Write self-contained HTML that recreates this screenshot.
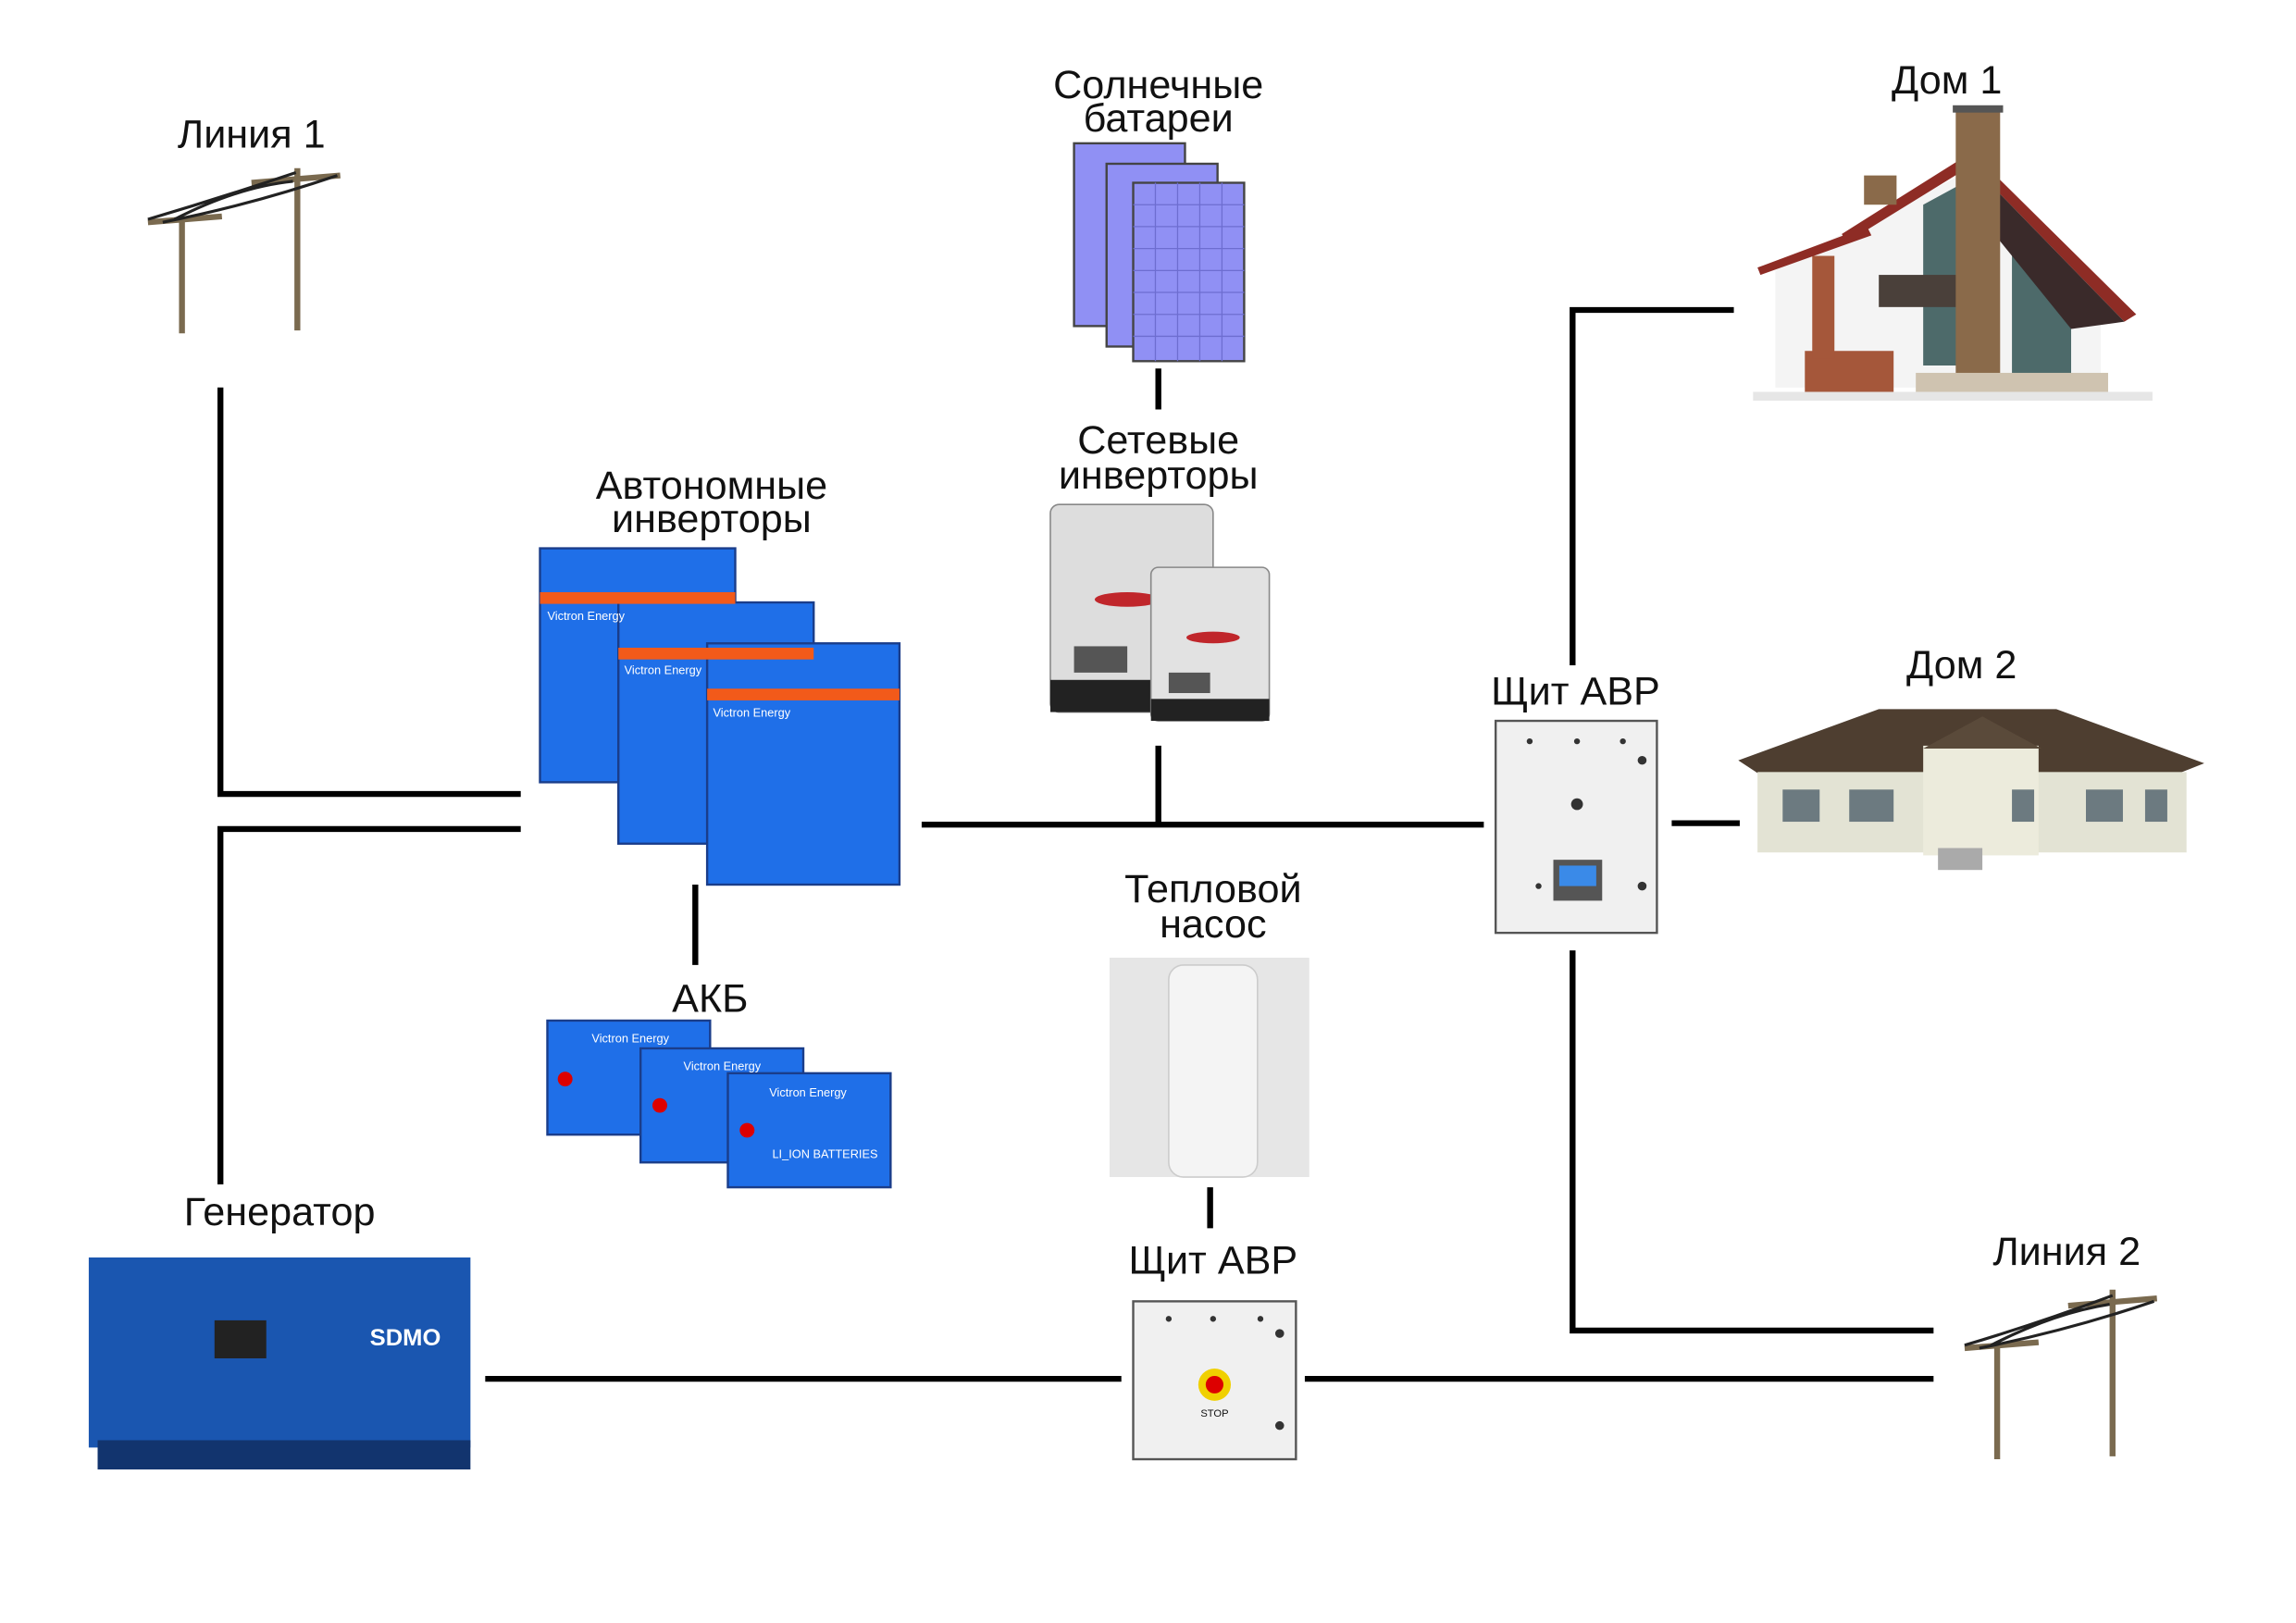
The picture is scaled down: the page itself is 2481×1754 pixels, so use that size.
<!DOCTYPE html>
<html><head><meta charset="utf-8"><style>
html,body{margin:0;padding:0;background:#fff;}
svg{display:block;}
text{font-family:"Liberation Sans","DejaVu Sans",sans-serif;fill:#111;}
</style></head><body>
<svg width="2481" height="1754" viewBox="0 0 1552 1110" preserveAspectRatio="none" xmlns="http://www.w3.org/2000/svg">
<rect width="1552" height="1110" fill="#fff"/>
<g stroke="#000" stroke-width="4" fill="none">
<polyline points="149,265 149,543 352,543"/>
<polyline points="352,567 149,567 149,810"/>
<line x1="470" y1="605" x2="470" y2="660"/>
<line x1="623" y1="564" x2="1003" y2="564"/>
<line x1="783" y1="510" x2="783" y2="563"/>
<line x1="783" y1="252" x2="783" y2="280"/>
<line x1="818" y1="812" x2="818" y2="840"/>
<line x1="328" y1="943" x2="758" y2="943"/>
<line x1="882" y1="943" x2="1307" y2="943"/>
<polyline points="1063,650 1063,910 1307,910"/>
<polyline points="1063,455 1063,212 1172,212"/>
<line x1="1130" y1="563" x2="1176" y2="563"/>
</g>
<g font-size="27" text-anchor="middle">
<text x="170" y="101">Линия 1</text>
<text x="783" y="67">Солнечные</text>
<text x="783" y="90">батареи</text>
<text x="783" y="310">Сетевые</text>
<text x="783" y="334">инверторы</text>
<text x="481" y="341">Автономные</text>
<text x="481" y="364">инверторы</text>
<text x="480" y="692">АКБ</text>
<text x="820" y="617">Тепловой</text>
<text x="820" y="641">насос</text>
<text x="820" y="871">Щит АВР</text>
<text x="1065" y="482">Щит АВР</text>
<text x="189" y="838">Генератор</text>
<text x="1397" y="865">Линия 2</text>
<text x="1316" y="64">Дом 1</text>
<text x="1326" y="464">Дом 2</text>
</g>
<g stroke="#7a6a4f" stroke-width="4" fill="none">
<line x1="123" y1="148" x2="123" y2="228"/><line x1="201" y1="115" x2="201" y2="226"/>
<line x1="100" y1="152" x2="150" y2="148"/><line x1="170" y1="125" x2="230" y2="120"/>
<line x1="1350" y1="918" x2="1350" y2="998"/><line x1="1428" y1="882" x2="1428" y2="996"/>
<line x1="1328" y1="922" x2="1378" y2="918"/><line x1="1398" y1="893" x2="1458" y2="888"/>
</g>
<g stroke="#222" stroke-width="2" fill="none">
<path d="M100,150 Q150,135 200,118 M110,152 Q170,140 228,120 M118,150 Q160,128 198,124"/>
<path d="M1328,920 Q1378,905 1428,886 M1338,922 Q1398,910 1456,890 M1346,920 Q1388,898 1426,892"/>
</g>
<g stroke="#444" stroke-width="1.5">
<rect x="726" y="98" width="75" height="125" fill="#9090f4"/>
<rect x="748" y="112" width="75" height="125" fill="#9090f4"/>
<rect x="766" y="125" width="75" height="122" fill="#9090f4"/>
</g>
<g stroke="#6d6dd0" stroke-width="0.8">
<path d="M781,125v122M796,125v122M811,125v122M826,125v122M766,140h75M766,155h75M766,170h75M766,185h75M766,200h75M766,215h75M766,230h75"/>
</g>
<rect x="710" y="345" width="110" height="142" rx="6" fill="#ddd" stroke="#888"/>
<rect x="710" y="465" width="110" height="22" fill="#222"/>
<ellipse cx="762" cy="410" rx="22" ry="5" fill="#c0262b"/>
<rect x="726" y="442" width="36" height="18" fill="#555"/>
<rect x="778" y="388" width="80" height="105" rx="5" fill="#e2e2e2" stroke="#888"/>
<rect x="778" y="478" width="80" height="15" fill="#222"/>
<ellipse cx="820" cy="436" rx="18" ry="4" fill="#c0262b"/>
<rect x="790" y="460" width="28" height="14" fill="#555"/>
<g stroke="#1a3d8a" stroke-width="1.5">
<rect x="365" y="375" width="132" height="160" fill="#1f6fe8"/>
<rect x="418" y="412" width="132" height="165" fill="#1f6fe8"/>
<rect x="478" y="440" width="130" height="165" fill="#1f6fe8"/>
</g>
<rect x="365" y="405" width="132" height="8" fill="#f25a1a"/>
<rect x="418" y="443" width="132" height="8" fill="#f25a1a"/>
<rect x="478" y="471" width="130" height="8" fill="#f25a1a"/>
<g font-size="8"><text x="370" y="424" style="fill:#fff">Victron Energy</text><text x="422" y="461" style="fill:#fff">Victron Energy</text><text x="482" y="490" style="fill:#fff">Victron Energy</text></g>
<g stroke="#1a3d8a" stroke-width="1.5">
<rect x="370" y="698" width="110" height="78" fill="#1f6fe8"/>
<rect x="433" y="717" width="110" height="78" fill="#1f6fe8"/>
<rect x="492" y="734" width="110" height="78" fill="#1f6fe8"/>
</g>
<g fill="#d00"><circle cx="382" cy="738" r="5"/><circle cx="446" cy="756" r="5"/><circle cx="505" cy="773" r="5"/></g>
<g font-size="8"><text x="400" y="713" style="fill:#fff">Victron Energy</text><text x="462" y="732" style="fill:#fff">Victron Energy</text><text x="520" y="750" style="fill:#fff">Victron Energy</text><text x="522" y="792" style="fill:#fff">LI_ION BATTERIES</text></g>
<rect x="750" y="655" width="135" height="150" fill="#e6e6e6"/>
<rect x="790" y="660" width="60" height="145" rx="10" fill="#f4f4f4" stroke="#ccc"/>
<rect x="766" y="890" width="110" height="108" fill="#f0f0f0" stroke="#555" stroke-width="1.5"/>
<circle cx="821" cy="947" r="11" fill="#f0d000"/><circle cx="821" cy="947" r="6" fill="#d00"/>
<text x="821" y="969" font-size="7" text-anchor="middle">STOP</text>
<rect x="1011" y="493" width="109" height="145" fill="#f0f0f0" stroke="#555" stroke-width="1.5"/>
<rect x="1050" y="588" width="33" height="28" fill="#555"/><rect x="1054" y="592" width="25" height="14" fill="#3a8ae8"/>
<g fill="#333"><circle cx="1034" cy="507" r="2"/><circle cx="1066" cy="507" r="2"/><circle cx="1097" cy="507" r="2"/><circle cx="1110" cy="520" r="3"/><circle cx="1110" cy="606" r="3"/><circle cx="1040" cy="606" r="2"/><circle cx="1066" cy="550" r="4"/>
<circle cx="790" cy="902" r="2"/><circle cx="820" cy="902" r="2"/><circle cx="852" cy="902" r="2"/><circle cx="865" cy="912" r="3"/><circle cx="865" cy="975" r="3"/></g>
<rect x="60" y="860" width="258" height="130" fill="#1a56b0"/>
<rect x="66" y="985" width="252" height="20" fill="#12346e"/>
<rect x="145" y="903" width="35" height="26" fill="#222"/>
<text x="250" y="920" font-size="16" font-weight="bold" style="fill:#fff">SDMO</text>
<!-- house 1 -->
<polygon points="1200,185 1245,160 1335,115 1420,210 1420,265 1200,265" fill="#f4f4f4"/>
<polygon points="1300,140 1340,118 1340,250 1300,250" fill="#4d6a6a"/>
<polygon points="1360,170 1400,205 1400,255 1360,255" fill="#4d6a6a"/>
<rect x="1220" y="240" width="60" height="30" fill="#a5573a"/>
<rect x="1225" y="175" width="15" height="70" fill="#a5573a"/>
<rect x="1270" y="188" width="55" height="22" fill="#4a403a"/>
<polygon points="1188,183 1262,155 1265,161 1190,188" fill="#8e2c25"/>
<polygon points="1245,160 1333,104 1444,215 1436,220 1333,113 1248,166" fill="#8e2c25"/>
<polygon points="1333,113 1436,220 1400,225 1340,150" fill="#3a2a2a"/>
<rect x="1322" y="75" width="30" height="190" fill="#8a6a4a"/>
<rect x="1320" y="72" width="34" height="5" fill="#555"/>
<rect x="1260" y="120" width="22" height="20" fill="#8a6a4a"/>
<rect x="1295" y="255" width="130" height="18" fill="#cfc3b0"/>
<rect x="1185" y="268" width="270" height="6" fill="#e6e6e6"/>
<!-- house 2 -->
<polygon points="1175,520 1270,485 1390,485 1490,522 1470,530 1190,530" fill="#4e3e30"/>
<rect x="1188" y="528" width="290" height="55" fill="#e3e3d4"/>
<rect x="1300" y="510" width="78" height="75" fill="#ecebdc"/>
<polygon points="1300,512 1340,490 1380,512" fill="#5a4a3a"/>
<rect x="1310" y="580" width="30" height="15" fill="#aaa"/>
<g fill="#6c7a80"><rect x="1205" y="540" width="25" height="22"/><rect x="1250" y="540" width="30" height="22"/><rect x="1360" y="540" width="15" height="22"/><rect x="1410" y="540" width="25" height="22"/><rect x="1450" y="540" width="15" height="22"/></g>
</svg>
</body></html>
